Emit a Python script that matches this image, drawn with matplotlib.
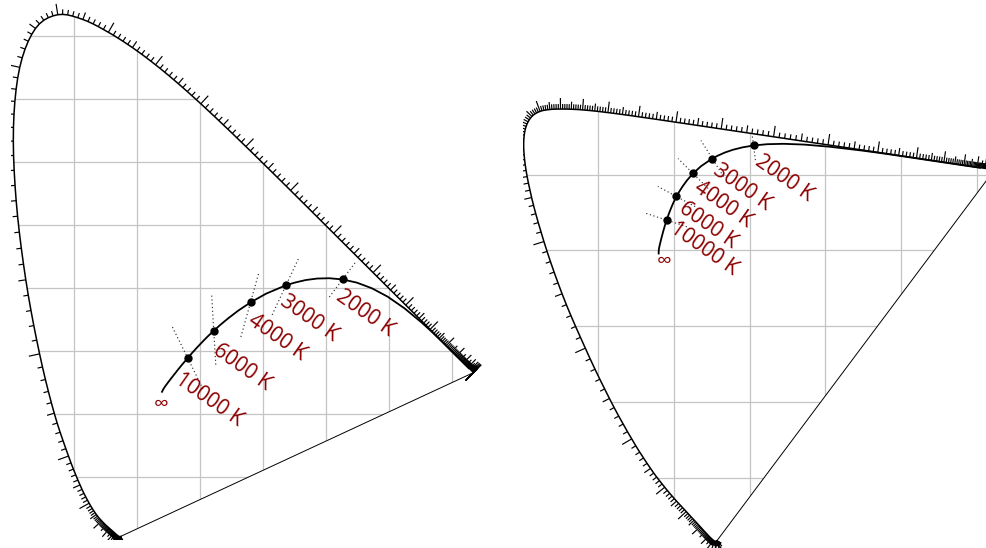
import numpy as np
import matplotlib
matplotlib.use("Agg")
import matplotlib.pyplot as plt
from matplotlib.collections import LineCollection
from matplotlib.patches import Polygon

# ---------------------------------------------------------------------------
# CIE 1931 2-degree spectral locus (chromaticity x, y), 5 nm steps
locus_nm = [380, 385, 390, 395, 400, 405, 410, 415, 420, 425, 430, 435, 440,
            445, 450, 455, 460, 465, 470, 475, 480, 485, 490, 495, 500, 505,
            510, 515, 520, 525, 530, 535, 540, 545, 550, 555, 560, 565, 570,
            575, 580, 585, 590, 595, 600, 605, 610, 615, 620, 625, 630, 635,
            640, 645, 650, 655, 660, 665, 670, 675, 680, 685, 690, 695, 700,
            705, 710, 715, 720, 725, 730, 735, 740, 745, 750, 755, 760, 765,
            770, 775, 780]
locus_x = [0.1741, 0.1740, 0.1738, 0.1736, 0.1733, 0.1730, 0.1726, 0.1721,
           0.1714, 0.1703, 0.1689, 0.1669, 0.1644, 0.1611, 0.1566, 0.1510,
           0.1440, 0.1355, 0.1241, 0.1096, 0.0913, 0.0687, 0.0454, 0.0235,
           0.0082, 0.0039, 0.0139, 0.0389, 0.0743, 0.1142, 0.1547, 0.1929,
           0.2296, 0.2658, 0.3016, 0.3373, 0.3731, 0.4087, 0.4441, 0.4788,
           0.5125, 0.5448, 0.5752, 0.6029, 0.6270, 0.6482, 0.6658, 0.6801,
           0.6915, 0.7006, 0.7079, 0.7140, 0.7190, 0.7230, 0.7260, 0.7283,
           0.7300, 0.7311, 0.7320, 0.7327, 0.7334, 0.7340, 0.7344, 0.7346,
           0.7347, 0.7347, 0.7347, 0.7347, 0.7347, 0.7347, 0.7347, 0.7347,
           0.7347, 0.7347, 0.7347, 0.7347, 0.7347, 0.7347, 0.7347, 0.7347,
           0.7347]
locus_y = [0.0050, 0.0050, 0.0049, 0.0049, 0.0048, 0.0048, 0.0048, 0.0048,
           0.0051, 0.0058, 0.0069, 0.0086, 0.0109, 0.0138, 0.0177, 0.0227,
           0.0297, 0.0399, 0.0578, 0.0868, 0.1327, 0.2007, 0.2950, 0.4127,
           0.5384, 0.6548, 0.7502, 0.8120, 0.8338, 0.8262, 0.8059, 0.7816,
           0.7543, 0.7243, 0.6923, 0.6589, 0.6245, 0.5896, 0.5547, 0.5202,
           0.4866, 0.4544, 0.4242, 0.3965, 0.3725, 0.3514, 0.3340, 0.3197,
           0.3083, 0.2993, 0.2920, 0.2859, 0.2809, 0.2770, 0.2740, 0.2717,
           0.2700, 0.2689, 0.2680, 0.2673, 0.2666, 0.2660, 0.2656, 0.2654,
           0.2653, 0.2653, 0.2653, 0.2653, 0.2653, 0.2653, 0.2653, 0.2653,
           0.2653, 0.2653, 0.2653, 0.2653, 0.2653, 0.2653, 0.2653, 0.2653,
           0.2653]

# Planckian locus (chromaticity x, y) by colour temperature in kelvin
planck_T = [500, 600, 700, 800, 900, 1000, 1200, 1400, 1600, 1800, 2000,
            2200, 2400, 2600, 2800, 3000, 3500, 4000, 4500, 5000, 5500, 6000,
            6500, 7000, 8000, 9000, 10000, 12000, 15000, 20000, 30000, 50000,
            100000, np.inf]
planck_x = [0.7270, 0.7160, 0.7015, 0.6852, 0.6684, 0.6528, 0.6251, 0.5985,
            0.5732, 0.5494, 0.5267, 0.5056, 0.4862, 0.4681, 0.4518, 0.4369,
            0.4053, 0.3805, 0.3608, 0.3451, 0.3325, 0.3221, 0.3135, 0.3064,
            0.2952, 0.2869, 0.2807, 0.2719, 0.2642, 0.2569, 0.2501, 0.2447,
            0.2420, 0.2399]
planck_y = [0.2723, 0.2832, 0.2975, 0.3138, 0.3302, 0.3444, 0.3674, 0.3858,
            0.3993, 0.4082, 0.4133, 0.4152, 0.4147, 0.4123, 0.4085, 0.4041,
            0.3907, 0.3768, 0.3636, 0.3516, 0.3411, 0.3318, 0.3237, 0.3166,
            0.3048, 0.2956, 0.2884, 0.2781, 0.2686, 0.2593, 0.2505, 0.2432,
            0.2390, 0.2348]

# Temperatures marked with a dot, an isotherm and a label
marked_T = [2000, 3000, 4000, 6000, 10000]
marked_labels = ["2000 K", "3000 K", "4000 K", "6000 K", "10000 K"]
infinity_label = "\u221e"

# ---------------------------------------------------------------------------
LABEL_COLOR = "#8b0000"
FONT = ["Open Sans", "DejaVu Sans"]
GRID_COLOR = "#c4c4c4"
LABEL_SIZE = 15
LABEL_ROT = -35


def xy_to_uv(x, y):
    d = -2 * np.asarray(x) + 12 * np.asarray(y) + 3
    return 4 * np.asarray(x) / d, 6 * np.asarray(y) / d


def uv_to_xy(u, v):
    d = 2 * u - 8 * v + 4
    return 3 * u / d, 2 * v / d


def xy_to_upvp(x, y):
    d = -2 * np.asarray(x) + 12 * np.asarray(y) + 3
    return 4 * np.asarray(x) / d, 9 * np.asarray(y) / d


def identity(x, y):
    return np.asarray(x, float), np.asarray(y, float)


def smooth_curve(knots, values, samples):
    """Catmull-Rom curve through the tabulated knots, evaluated at samples."""
    knots = np.asarray(knots, float)
    p = np.asarray(values, float)
    p = np.concatenate([[p[0]], p, [p[-1]]])
    out = np.empty(len(samples))
    for k, s in enumerate(samples):
        j = min(np.searchsorted(knots, s, side="right") - 1, len(knots) - 2)
        t = (s - knots[j]) / (knots[j + 1] - knots[j])
        p0, p1, p2, p3 = p[j], p[j + 1], p[j + 2], p[j + 3]
        out[k] = 0.5 * (2 * p1 + (p2 - p0) * t
                        + (2 * p0 - 5 * p1 + 4 * p2 - p3) * t ** 2
                        + (3 * p1 - p0 - 3 * p2 + p3) * t ** 3)
    return out


def draw_diagram(ax, to_plane, px_per_unit, grid_a, grid_b, iso_dir, iso_len,
                 label_offsets, inf_offset):
    nm = np.arange(locus_nm[0], locus_nm[-1] + 1)
    la, lb = to_plane(smooth_curve(locus_nm, locus_x, nm),
                      smooth_curve(locus_nm, locus_y, nm))

    # gamut outline used to clip the grid
    outline = Polygon(np.column_stack([la, lb]), closed=True,
                      facecolor="none", edgecolor="none")
    ax.add_patch(outline)
    lo_a, hi_a = ax.get_xlim()
    lo_b, hi_b = ax.get_ylim()
    for g in grid_a:
        ln, = ax.plot([g, g], [lo_b, hi_b], color=GRID_COLOR, lw=0.9, zorder=1)
        ln.set_clip_path(outline)
    for g in grid_b:
        ln, = ax.plot([lo_a, hi_a], [g, g], color=GRID_COLOR, lw=0.9, zorder=1)
        ln.set_clip_path(outline)

    # spectral locus and line of purples
    ax.plot(la, lb, color="black", lw=1.1, zorder=3)
    ax.plot([la[-1], la[0]], [lb[-1], lb[0]], color="black", lw=0.7, zorder=3)

    # wavelength ticks every nanometre, longer every 5 and 10 nm
    da, db = np.gradient(la), np.gradient(lb)
    segs = []
    last = (0.0, 1.0)
    for i, w in enumerate(nm):
        norm = np.hypot(da[i], db[i])
        if norm > 1e-7:
            last = (-db[i] / norm, da[i] / norm)
        na, nb = last
        if w % 10 == 0:
            length = 11.0
        elif w % 5 == 0:
            length = 7.5
        else:
            length = 5.0
        length /= px_per_unit
        segs.append([(la[i], lb[i]), (la[i] + na * length, lb[i] + nb * length)])
    ax.add_collection(LineCollection(segs, colors="black", linewidths=0.85,
                                     zorder=3))

    # Planckian locus
    pa, pb = to_plane(planck_x, planck_y)
    ax.plot(pa, pb, color="black", lw=1.3, zorder=4)

    for T, text in zip(marked_T, marked_labels):
        i = planck_T.index(T)
        ca, cb = pa[i], pb[i]
        ua, ub = iso_dir(i)
        up, down = iso_len[T]
        ax.plot([ca - ua * down, ca + ua * up], [cb - ub * down, cb + ub * up],
                color="#333333", lw=0.85, linestyle=(0, (1, 2.2)), zorder=4)
        ax.plot([ca], [cb], "o", color="black", ms=5, zorder=5)
        dx, dy = label_offsets[T]
        ax.annotate(text, xy=(ca, cb), xytext=(dx, -dy),
                    textcoords="offset pixels", ha="left", va="top",
                    rotation=LABEL_ROT, rotation_mode="anchor",
                    color=LABEL_COLOR, fontsize=LABEL_SIZE, family=FONT,
                    zorder=6)

    ax.annotate(infinity_label, xy=(pa[-1], pb[-1]), xytext=inf_offset,
                textcoords="offset pixels", ha="center", va="center",
                color=LABEL_COLOR, fontsize=LABEL_SIZE, family=FONT, zorder=6)


def uv_normal_in_xy(i):
    # isotherm direction: normal to the locus in CIE 1960 uv, mapped to xy
    u, v = xy_to_uv(planck_x, planck_y)
    tu, tv = u[i + 1] - u[i - 1], v[i + 1] - v[i - 1]
    nu, nv = -tv, tu
    if nv < 0:
        nu, nv = -nu, -nv
    s = np.hypot(nu, nv)
    nu, nv = nu / s, nv / s
    x1, y1 = uv_to_xy(u[i] + 1e-4 * nu, v[i] + 1e-4 * nv)
    ex, ey = x1 - planck_x[i], y1 - planck_y[i]
    s = np.hypot(ex, ey)
    return ex / s, ey / s


def upvp_normal(i):
    # isotherm direction: normal to the locus in the u'v' plane
    a, b = xy_to_upvp(planck_x, planck_y)
    ta, tb = a[i + 1] - a[i - 1], b[i + 1] - b[i - 1]
    na, nb = -tb, ta
    if nb < 0:
        na, nb = -na, -nb
    s = np.hypot(na, nb)
    return na / s, nb / s


W, H = 987, 548
fig = plt.figure(figsize=(W / 100, H / 100), dpi=100)

# left: CIE 1931 xy  (629.5 px per unit)
s1 = 629.5
x0_px, y0_px = 11.0, 539.6
xlim1, ylim1 = (0.0, 0.76), (0.0, 0.86)
ax1 = fig.add_axes([x0_px / W, (H - y0_px) / H,
                    xlim1[1] * s1 / W, ylim1[1] * s1 / H])
ax1.set_xlim(*xlim1)
ax1.set_ylim(*ylim1)
ax1.axis("off")

iso_len_xy = {2000: (0.035, 0.035), 3000: (0.048, 0.052), 4000: (0.049, 0.057),
              6000: (0.058, 0.054), 10000: (0.059, 0.055)}
offsets_xy = {2000: (2, 6), 3000: (2, 6), 4000: (6, 7), 6000: (7, 9),
              10000: (-5, 11)}
draw_diagram(ax1, identity, s1, [0.1, 0.2, 0.3, 0.4, 0.5, 0.6, 0.7],
             [0.1, 0.2, 0.3, 0.4, 0.5, 0.6, 0.7, 0.8], uv_normal_in_xy,
             iso_len_xy, offsets_xy, (-1, -13))

# right: CIE 1976 u'v'  (757 px per unit)
s2 = 757.0
x0_px, y0_px = 522.6, 553.2
xlim2, ylim2 = (0.0, 0.65), (0.0, 0.62)
ax2 = fig.add_axes([x0_px / W, (H - y0_px) / H,
                    xlim2[1] * s2 / W, ylim2[1] * s2 / H])
ax2.set_xlim(*xlim2)
ax2.set_ylim(*ylim2)
ax2.axis("off")

iso_len_upvp = {2000: (0.0145, 0.0195), 3000: (0.028, 0.028),
                4000: (0.028, 0.028), 6000: (0.028, 0.028),
                10000: (0.029, 0.028)}
offsets_upvp = {2000: (10, 5), 3000: (9, 1), 4000: (9, 3), 6000: (11, 1),
                10000: (12, -2)}
draw_diagram(ax2, xy_to_upvp, s2, [0.1, 0.2, 0.3, 0.4, 0.5, 0.6],
             [0.1, 0.2, 0.3, 0.4, 0.5], upvp_normal, iso_len_upvp,
             offsets_upvp, (5, -8))

fig.savefig("out.png", dpi=100)
